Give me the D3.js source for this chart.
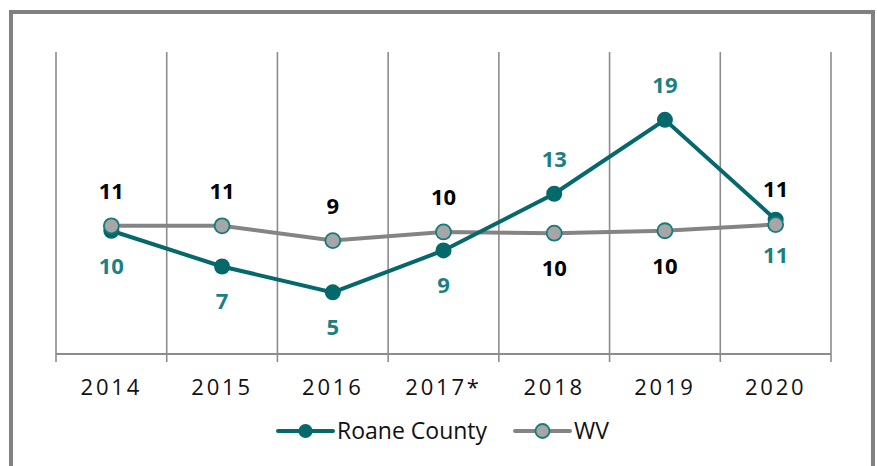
<!DOCTYPE html>
<html>
<head>
<meta charset="utf-8">
<script src="https://cdn.jsdelivr.net/npm/d3@7"></script>
<style>
  body { margin: 0; background: #fff; }
  svg { display: block; font-family: "Open Sans", Lato, sans-serif; }
</style>
</head>
<body>
<div id="chart"></div>
<script>
var years = ['2014', '2015', '2016', '2017*', '2018', '2019', '2020']
// plotted values and the printed labels
var roane = [10, 7.1, 5, 8.4, 13, 19, 10.9]
var roaneLabels = ['10', '7', '5', '9', '13', '19', '11']
var roaneLabelPos = ['below', 'below', 'below', 'below', 'above', 'above', 'below']
var wv = [10.4, 10.4, 9.2, 9.9, 9.8, 10, 10.5]
var wvLabels = ['11', '11', '9', '10', '10', '10', '11']
var wvLabelPos = ['above', 'above', 'above', 'above', 'below', 'below', 'above']

var W = 877, H = 466
var margin = {top: 52, right: 46, bottom: 112, left: 56}
var width = W - margin.left - margin.right
var height = H - margin.top - margin.bottom

var teal = '#05686b', tealText = '#1b7f83', grey = '#848484', gridCol = '#8c8c8c'

var svg = d3.select('#chart').append('svg')
  .attr('width', W)
  .attr('height', H)

// outer frame (bottom edge runs off the picture)
svg.append('rect')
  .attr('x', 11).attr('y', 12)
  .attr('width', 862).attr('height', 480)
  .attr('fill', 'none')
  .attr('stroke', '#808080')
  .attr('stroke-width', 4)

var g = svg.append('g')
  .attr('transform', 'translate(' + margin.left + ',' + margin.top + ')')

var xScale = d3.scaleBand().domain(years).range([0, width]).padding(0)
var yScale = d3.scaleLinear().domain([0, 24.5]).range([height, 0])
var cx = function(d, i) { return xScale(years[i]) + xScale.bandwidth() / 2 }

// vertical gridlines at category boundaries
var bounds = years.map(function(y) { return xScale(y) }).concat([width])
g.selectAll('.grid').data(bounds).enter().append('line')
  .attr('class', 'grid')
  .attr('x1', d => d).attr('x2', d => d)
  .attr('y1', 0).attr('y2', height + 8)
  .attr('stroke', gridCol)
  .attr('stroke-width', 1.6)

// x axis
g.append('line')
  .attr('x1', 0).attr('x2', width)
  .attr('y1', height).attr('y2', height)
  .attr('stroke', gridCol)
  .attr('stroke-width', 2)

var xAxis = d3.axisBottom(xScale).tickSize(0).tickPadding(0)
g.append('g')
  .attr('transform', 'translate(0,' + height + ')')
  .call(xAxis)
  .call(function(a) {
    a.select('.domain').remove()
    a.selectAll('text')
      .attr('y', 41)
      .attr('dy', 0)
      .attr('fill', '#111')
      .style('font-size', '22px')
      .style('letter-spacing', '2.8px')
      .style('font-family', '"Open Sans", Lato, sans-serif')
  })

var line = d3.line().x(cx).y(d => yScale(d))

// WV series
g.append('path').datum(wv)
  .attr('d', line)
  .attr('fill', 'none')
  .attr('stroke', grey)
  .attr('stroke-width', 4)

// Roane series
g.append('path').datum(roane)
  .attr('d', line)
  .attr('fill', 'none')
  .attr('stroke', teal)
  .attr('stroke-width', 4)

g.selectAll('.roane-dot').data(roane).enter().append('circle')
  .attr('class', 'roane-dot')
  .attr('cx', cx).attr('cy', d => yScale(d))
  .attr('r', 8)
  .attr('fill', teal)

g.selectAll('.wv-dot').data(wv).enter().append('circle')
  .attr('class', 'wv-dot')
  .attr('cx', cx).attr('cy', d => yScale(d))
  .attr('r', 7.5)
  .attr('fill', '#a6a6a6')
  .attr('stroke', '#167a7c')
  .attr('stroke-width', 1.8)

// data labels
function labels(values, texts, pos, color, cls) {
  g.selectAll('.' + cls).data(values).enter().append('text')
    .attr('class', cls)
    .attr('x', cx)
    .attr('y', function(d, i) { return yScale(d) + (pos[i] == 'above' ? -35 : 35) })
    .attr('dy', '0.36em')
    .attr('text-anchor', 'middle')
    .attr('fill', color)
    .style('font-size', '22px')
    .style('font-weight', 'bold')
    .text(function(d, i) { return texts[i] })
}
labels(wv, wvLabels, wvLabelPos, '#000', 'wv-label')
labels(roane, roaneLabels, roaneLabelPos, tealText, 'roane-label')

// legend
var legendItems = [
  {label: 'Roane County', x: 278, line: teal, fill: teal, stroke: 'none'},
  {label: 'WV', x: 515, line: grey, fill: '#a6a6a6', stroke: '#167a7c'}
]
var legend = svg.selectAll('.legend').data(legendItems).enter().append('g')
  .attr('class', 'legend')
  .attr('transform', d => 'translate(' + d.x + ',431)')

legend.append('line')
  .attr('x1', 0).attr('x2', 55)
  .attr('stroke', d => d.line)
  .attr('stroke-width', 4)
  .attr('stroke-linecap', 'round')

legend.append('circle')
  .attr('cx', 27.5).attr('r', 7)
  .attr('fill', d => d.fill)
  .attr('stroke', d => d.stroke)
  .attr('stroke-width', 1.8)

legend.append('text')
  .attr('x', 59)
  .attr('dy', '0.36em')
  .attr('fill', '#111')
  .style('font-size', '23px')
  .text(d => d.label)
</script>
</body>
</html>
